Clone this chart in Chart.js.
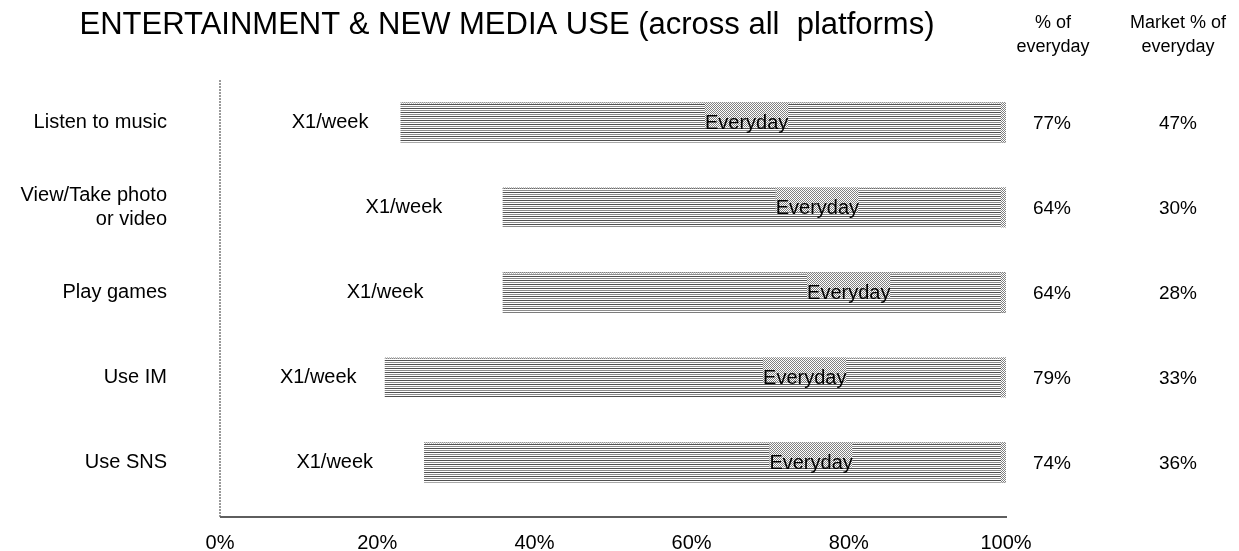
<!DOCTYPE html>
<html>
<head>
<meta charset="utf-8">
<script src="https://cdn.jsdelivr.net/npm/chart.js@4.4.1/dist/chart.umd.min.js"></script>
<style>
  html, body { margin: 0; padding: 0; background: #fff; overflow: hidden; }
  canvas { display: block; }
</style>
</head>
<body>
<canvas id="chartMedia" width="1239" height="551"></canvas>
<script>
const activities = ["Listen to music", ["View/Take photo", "or video"], "Play games", "Use IM", "Use SNS"];
const weekly = [23, 36, 36, 21, 26];
const everyday = [77, 64, 64, 79, 74];
const marketEveryday = [47, 30, 28, 33, 36];
const xTicks = [0, 20, 40, 60, 80, 100];

// where the in-bar labels sit, in axis %
const weeklyLabelAt = [14, 23.4, 21, 12.5, 14.6];
const everydayLabelAt = [67, 76, 80, 74.4, 75.2];

const FONT = "'Liberation Sans', Arial, sans-serif";

function makePattern(rows) {
    let c = document.createElement("canvas");
    c.width = rows[0].length;
    c.height = rows.length;
    let ctx = c.getContext("2d");
    rows.forEach(function (row, y) {
        row.forEach(function (col, x) {
            ctx.fillStyle = col;
            ctx.fillRect(x, y, 1, 1);
        });
    });
    return ctx.createPattern(c, "repeat");
}

const hatch = makePattern([
    ["#505050"], ["#ffffff"], ["#8c8c8c"], ["#ffffff"]
]);
const checker = makePattern([
    ["#808080", "#ffffff"], ["#ffffff", "#808080"]
]);

const decorations = {
    id: "decorations",
    beforeDatasetsDraw(chart) {
        let ctx = chart.ctx;
        let area = chart.chartArea;
        ctx.save();
        // vertical dotted axis
        ctx.strokeStyle = "#7a7a7a";
        ctx.lineWidth = 1.5;
        ctx.setLineDash([2, 1]);
        ctx.beginPath();
        ctx.moveTo(area.left, area.top);
        ctx.lineTo(area.left, area.bottom + 12);
        ctx.stroke();
        // horizontal axis
        ctx.setLineDash([]);
        ctx.strokeStyle = "#5e5e5e";
        ctx.lineWidth = 2;
        ctx.beginPath();
        ctx.moveTo(area.left, area.bottom + 12);
        ctx.lineTo(area.right + 1, area.bottom + 12);
        ctx.stroke();
        ctx.restore();
    },
    afterDatasetsDraw(chart) {
        let ctx = chart.ctx;
        let xScale = chart.scales.x;
        let meta = chart.getDatasetMeta(1);
        ctx.save();
        ctx.textBaseline = "middle";
        ctx.fillStyle = "#000";

        meta.data.forEach(function (bar, i) {
            let top = bar.y - bar.height / 2;
            // edge trims
            ctx.fillStyle = checker;
            ctx.fillRect(bar.x - 5, top, 5, bar.height);
            ctx.fillRect(bar.base, top, bar.x - bar.base, 1);

            // X1/week label
            ctx.font = "20px " + FONT;
            ctx.textAlign = "center";
            ctx.fillStyle = "#000";
            ctx.fillText("X1/week", xScale.getPixelForValue(weeklyLabelAt[i]), bar.y);

            // Everyday label with patterned box
            let ex = xScale.getPixelForValue(everydayLabelAt[i]);
            let w = ctx.measureText("Everyday").width;
            ctx.fillStyle = checker;
            ctx.fillRect(ex - w / 2, top, w, bar.y + 5 - top);
            ctx.fillStyle = "#000";
            ctx.fillText("Everyday", ex, bar.y + 1);

            // value columns
            ctx.font = "19px " + FONT;
            ctx.fillText(everyday[i] + "%", 1052, bar.y + 1);
            ctx.fillText(marketEveryday[i] + "%", 1178, bar.y + 1);
        });

        // headings
        ctx.textAlign = "center";
        ctx.font = "31px " + FONT;
        ctx.fillText("ENTERTAINMENT & NEW MEDIA USE (across all  platforms)", 507, 25);
        ctx.font = "18px " + FONT;
        ctx.fillText("% of", 1053, 23);
        ctx.fillText("everyday", 1053, 47);
        ctx.fillText("Market % of", 1178, 23);
        ctx.fillText("everyday", 1178, 47);
        ctx.restore();
    }
};

new Chart("chartMedia", {
    type: "bar",
    data: {
        labels: activities,
        datasets: [{
            data: weekly,
            label: "X1/week",
            backgroundColor: "rgba(0,0,0,0)",
            barThickness: 40
        },
        {
            data: everyday,
            label: "Everyday",
            backgroundColor: hatch,
            borderWidth: 0,
            barThickness: 40
        }]
    },
    options: {
        indexAxis: "y",
        responsive: false,
        animation: false,
        layout: {
            padding: { top: 80, right: 233, left: 0, bottom: 0 }
        },
        plugins: {
            legend: { display: false },
            tooltip: { enabled: false }
        },
        scales: {
            x: {
                stacked: true,
                min: 0,
                max: 100,
                afterBuildTicks: function (scale) {
                    scale.ticks = xTicks.map(v => ({ value: v }));
                },
                afterFit: function (scale) {
                    scale.height = 46;
                    scale.paddingLeft = 0;
                    scale.paddingRight = 0;
                },
                grid: { display: false, drawTicks: false },
                border: { display: false },
                ticks: {
                    padding: 26,
                    color: "#000",
                    font: { family: FONT, size: 20 },
                    callback: v => v + "%"
                }
            },
            y: {
                stacked: true,
                afterFit: function (scale) {
                    scale.width = 220;
                    scale.paddingTop = 0;
                    scale.paddingBottom = 0;
                },
                grid: { display: false, drawTicks: false },
                border: { display: false },
                ticks: {
                    padding: 53,
                    color: "#000",
                    font: { family: FONT, size: 20 }
                }
            }
        }
    },
    plugins: [decorations]
});
</script>
</body>
</html>
